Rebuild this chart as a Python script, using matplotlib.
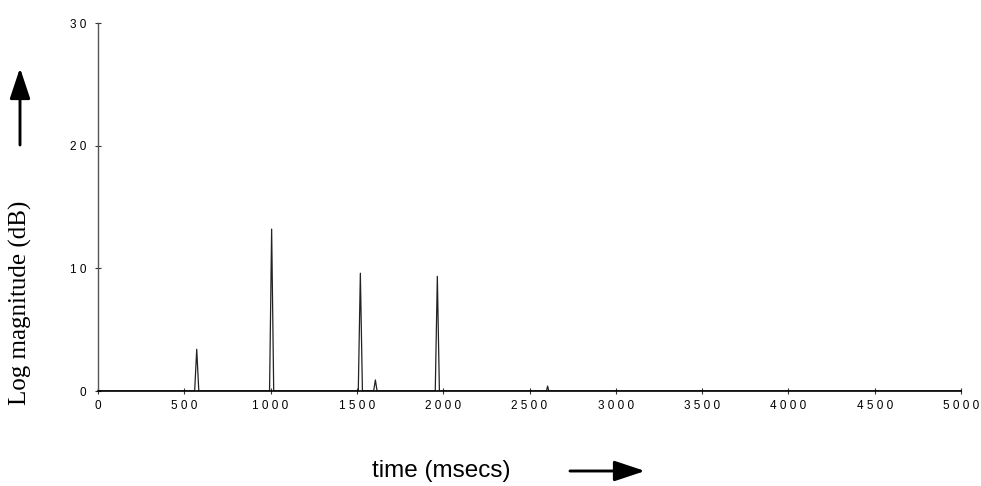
import matplotlib
matplotlib.use("Agg")
import matplotlib.pyplot as plt
from matplotlib.patches import FancyArrowPatch

# Data (time in ms, log magnitude in dB)
time_ms = [0, 560, 572, 584, 994, 1006, 1018, 1508, 1520, 1532,
           1597, 1607, 1617, 1954, 1966, 1978, 2598, 2605, 2612, 5000]
mag_db = [0, 0, 3.4, 0, 0, 13.2, 0, 0, 9.6, 0,
          0, 0.9, 0, 0, 9.35, 0, 0, 0.4, 0, 0]
x_ticks = [0, 500, 1000, 1500, 2000, 2500, 3000, 3500, 4000, 4500, 5000]
y_ticks = [0, 10, 20, 30]

def spaced(v):
    return " ".join(str(v))

fig = plt.figure(figsize=(9.81, 4.86), dpi=100)
ax = fig.add_axes([98/981, 95/486, 863/981, 368/486])
ax.plot(time_ms, mag_db, color="#222222", lw=0.9)
ax.set_xlim(0, 5000)
ax.set_ylim(0, 30)
for s in ["top", "right"]:
    ax.spines[s].set_visible(False)
ax.spines["bottom"].set_color("black")
ax.spines["bottom"].set_linewidth(1.2)
ax.spines["left"].set_color("#555555")
ax.spines["left"].set_linewidth(1.0)
ax.set_xticks(x_ticks)
ax.set_xticklabels([spaced(v) for v in x_ticks], fontfamily="Liberation Sans", fontsize=8.5)
ax.set_yticks(y_ticks)
ax.set_yticklabels([spaced(v) for v in y_ticks], fontfamily="Liberation Sans", fontsize=8.5)
ax.tick_params(axis="both", direction="inout", length=5, width=0.8, color="#333333", pad=4)
ax.tick_params(axis="y", pad=6)

fig.text(20/981, 1 - 303/486, "Log magnitude (dB)", rotation=90, ha="center", va="center",
         fontfamily="Liberation Serif", fontsize=18)
fig.text(441/981, 1 - 471/486, "time (msecs)", ha="center", va="center",
         fontfamily="Liberation Sans", fontsize=17.5)

for start, end in [((20, 145), (20, 68)), ((570, 471), (645, 471))]:
    fig.patches.append(FancyArrowPatch(
        (start[0]/981, 1 - start[1]/486), (end[0]/981, 1 - end[1]/486),
        transform=fig.transFigure,
        arrowstyle="-|>,head_length=7.5,head_width=2.5", lw=2.1, color="black",
        mutation_scale=2.5, shrinkA=0, shrinkB=0))

fig.savefig("out.png", dpi=100)
